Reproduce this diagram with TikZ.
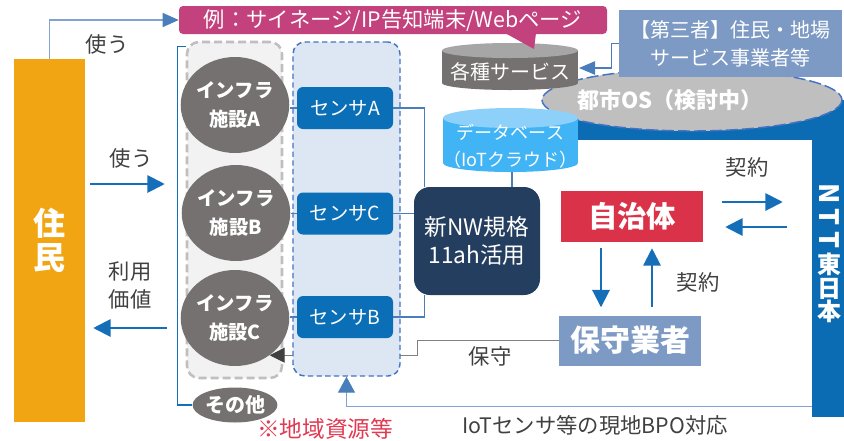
\documentclass[tikz,border=0pt]{standalone}
\usepackage{fontspec}
\setmainfont{Noto Sans CJK JP}
\usepackage{graphicx}
\usepackage{tikz}
\usetikzlibrary{arrows.meta,shapes.geometric,positioning}
\pgfdeclarelayer{background}
\pgfsetlayers{background,main}

\definecolor{cOrange}{RGB}{242,165,18}
\definecolor{cNtt}{RGB}{11,108,180}
\definecolor{cLink}{RGB}{74,126,187}
\definecolor{cArrow}{RGB}{20,110,184}
\definecolor{cThin}{RGB}{130,162,210}
\definecolor{cTip}{RGB}{74,126,187}
\definecolor{cPink}{RGB}{195,65,124}
\definecolor{cDark}{RGB}{118,113,113}
\definecolor{cCap}{RGB}{166,166,166}
\definecolor{cOs}{RGB}{191,191,191}
\definecolor{cBorder}{RGB}{68,114,196}
\definecolor{cSteel}{RGB}{124,154,195}
\definecolor{cSky}{RGB}{65,180,245}
\definecolor{cSkyCap}{RGB}{141,209,251}
\definecolor{cNavy}{RGB}{36,62,95}
\definecolor{cRed}{RGB}{218,51,73}
\definecolor{cGrayBg}{RGB}{242,242,242}
\definecolor{cGrayLine}{RGB}{191,191,191}
\definecolor{cBlueBg}{RGB}{221,230,243}
\definecolor{cSensor}{RGB}{11,111,184}
\definecolor{cText}{RGB}{64,64,64}
\definecolor{cNote}{RGB}{224,58,82}

\newcommand{\sideways}[1]{\rotatebox[origin=c]{-90}{\fontsize{20}{20}\selectfont #1}}

\begin{document}
\begin{tikzpicture}[x=0.75pt, y=-0.75pt, inner sep=0pt, text=cText, font=\fontsize{16}{21}\selectfont,
	flecha/.style={draw=cArrow, line width=1.5pt, -{Triangle[length=13pt, width=13pt]}},
	fina/.style={draw=cThin, line width=1pt, -{Triangle[length=12pt, width=10.5pt, color=cTip]}},
	link/.style={draw=cLink, line width=1pt},
	maint/.style={draw=gray, line width=0.75pt}]
	\tikzstyle{box}=[rectangle, text=white, align=center]
	\tikzset{infra/.style={ellipse, fill=cDark, text=white, align=center, minimum width=64.5pt, minimum height=72pt, font=\fontsize{14.5}{21.4}\selectfont\bfseries},
		sensorbox/.style={box, rounded corners=4.5pt, fill=cSensor, minimum width=72pt, minimum height=31.5pt, font=\fontsize{14.5}{18}\selectfont},
		cyltxt/.style={text=white, align=center}}

	\useasboundingbox (0,0) rectangle (844,440);

	%FONDO
	\fill[cNtt] (570,100) rectangle (844,140);
	\node[box, fill=cNtt, minimum width=24pt, minimum height=207.75pt]	(ntt) at (828,278.5) {};
	\node[box, font=\fontsize{18}{17.6}\selectfont\bfseries]	(ntttxt) at (829,253)
		{\sideways{N}\\\sideways{T}\\\sideways{T}\\東\\日\\本};
	\draw[cBorder, line width=1.1pt, dash pattern=on 9pt off 3pt, fill=cOs] (692,100) ellipse [x radius=150, y radius=31];
	\node[text=white, font=\fontsize{16.5}{20}\selectfont\bfseries]	(os) at (670,100) {都市OS（検討中）};

	%SERVICIOS
	\node[box, fill=cSteel, minimum width=167.25pt, minimum height=50.25pt, font=\fontsize{15}{21}\selectfont]	(tp) at (730.5,43.5) {【第三者】住民・地場\\サービス事業者等};
	\fill[cDark] (442,50.5) rectangle (578,83);
	\fill[cDark] (510,83) ellipse [x radius=68, y radius=7];
	\fill[cCap] (510,50.5) ellipse [x radius=68, y radius=7.5];
	\node[cyltxt, font=\fontsize{15}{20}\selectfont]	(svc) at (510,72) {各種サービス};
	\coordinate (svcR) at (579,68);
	\draw[draw=cTip, line width=0.9pt, -{Triangle[length=12pt, width=10pt]}] (tp.west) -- ++(-7,0) |- (svcR);

	\node[box, fill=cPink, rounded corners=3pt, minimum width=321pt, minimum height=21pt]	(ex) at (393,20) {例：サイネージ/IP告知端末/Webページ};
	\fill[cPink] (505,33) -- (536,33) -- (534,49) -- cycle;

	\fill[cSky] (443,118) rectangle (578,163);
	\fill[cSky] (510.5,163) ellipse [x radius=67.5, y radius=9];
	\fill[cSkyCap] (510.5,118) ellipse [x radius=67.5, y radius=10];
	\node[cyltxt, font=\fontsize{13.5}{20.6}\selectfont]	(db) at (510.5,146) {データベース\\（IoTクラウド）};
	\coordinate (dbB) at (512,172);

	%BLOQUES
	\node[box, fill=cOrange, minimum width=53.25pt, minimum height=272.25pt, font=\fontsize{24}{25}\selectfont\bfseries]	(jumin) at (49.5,240.5) {住\\民};
	\node[rectangle, rounded corners=9pt, fill=cGrayBg, draw=cGrayLine, line width=1.9pt, dash pattern=on 6pt off 3pt, minimum width=71.25pt, minimum height=252pt]	(igrp) at (234.5,210) {};
	\node[rectangle, rounded corners=9pt, fill=cBlueBg, draw=cBorder, line width=1.1pt, dash pattern=on 4pt off 2.5pt, minimum width=80.25pt, minimum height=250.5pt]	(sgrp) at (346.5,209) {};

	\node[infra]	(infA) at (235,105) {インフラ\\施設A};
	\node[infra]	(infB) at (236,213) {インフラ\\施設B};
	\node[infra]	(infC) at (235,318) {インフラ\\施設C};
	\node[ellipse, fill=cDark, text=white, minimum width=63pt, minimum height=26.25pt, font=\fontsize{15}{18}\selectfont\bfseries]	(etc) at (235,405) {その他};

	\node[sensorbox]	(senA) at (345,108) {センサA};
	\node[sensorbox]	(senC) [below=47.25pt of senA] {センサC};
	\node[sensorbox]	(senB) [below=45.75pt of senC] {センサB};

	\node[box, fill=cNavy, rounded corners=12pt, minimum width=94.5pt, minimum height=81pt, font=\fontsize{17}{21}\selectfont]	(nw) at (477,241) {新NW規格\\11ah活用};
	\node[box, fill=cRed, minimum width=106.5pt, minimum height=38.25pt, font=\fontsize{22}{26}\selectfont\bfseries]	(jichi) at (632,216.5) {自治体};
	\node[box, fill=cSteel, minimum width=106.5pt, minimum height=37.5pt, font=\fontsize{22.5}{26}\selectfont\bfseries]	(hoshu) [below=54.75pt of jichi, xshift=-1.5pt] {保守業者};

	%TEXTOS
	\node	(use1) at (107,44) {使う};
	\node	(use2) at (131,158) {使う};
	\node[align=center, font=\fontsize{16}{21}\selectfont]	(value) at (130,285) {利用\\価値};
	\node	(mnt) at (490,356) {保守};
	\node	(ct1) at (747,167) {契約};
	\node	(ct2) at (698,282) {契約};
	\node	(bpo) at (595,425) {IoTセンサ等の現地BPO対応};
	\node[text=cNote, font=\fontsize{17}{20}\selectfont]	(note) at (325,429) {※地域資源等};

	%CONEXIONES
	\coordinate (brk) at ([xshift=-6pt]igrp.north west);
	\draw[fina] (jumin.north) |- (ex.west);
	\draw[flecha, shorten <=3.75pt, shorten >=9.75pt] (jumin.east |- 0,184) -- (brk |- 0,184);
	\draw[flecha, shorten <=8.25pt, shorten >=6pt] (brk |- 0,328) -- (jumin.east |- 0,328);
	\draw[draw=cArrow, line width=1pt] ([yshift=-4.5pt]igrp.north west) -- ++(-8,0) |- (etc.west);

	\draw[link] (senA.west) -- (senA.west -| infA.east);
	\draw[link] (senC.west) -- (senC.west -| infB.east);
	\draw[link] (senB.west) -- (senB.west -| infC.east);
	\draw[link] (senA.east) -| ([xshift=8.25pt]nw.north west);
	\draw[link] (senC.east) -- (senC.east -| nw.west);
	\draw[link] (senB.east) -| ([xshift=8.25pt]nw.south west);
	\draw[link] (dbB) -- (dbB |- nw.north);

	\begin{pgfonlayer}{background}
		\draw[maint] (hoshu.west) -- ++(-141,0) |- (infC.-47);
	\end{pgfonlayer}
	\draw[maint, -{Triangle[length=11.25pt, width=11.25pt, color=cText]}] (sgrp.west |- infC.-47) -- (infC.-47);

	\draw[fina, line width=1.1pt, -{Triangle[length=12pt, width=12.75pt, color=cTip]}] ([yshift=8.25pt]ntt.south west) -| (sgrp.south);

	\draw[flecha, shorten <=4.5pt, shorten >=6pt] ([xshift=-23.25pt]jichi.south) -- ([xshift=-23.25pt]jichi.south |- hoshu.north);
	\draw[flecha, shorten <=6pt, shorten >=4.5pt] ([xshift=15pt]jichi.south |- hoshu.north) -- ([xshift=15pt]jichi.south);
	\draw[flecha, shorten <=14.25pt, shorten >=21.75pt] ([yshift=10.875pt]jichi.east) -- ([yshift=10.875pt]jichi.east -| ntt.west);
	\draw[flecha, shorten <=18.75pt, shorten >=16.5pt] ([yshift=-7.875pt]jichi.east -| ntt.west) -- ([yshift=-7.875pt]jichi.east);
\end{tikzpicture}
\end{document}
